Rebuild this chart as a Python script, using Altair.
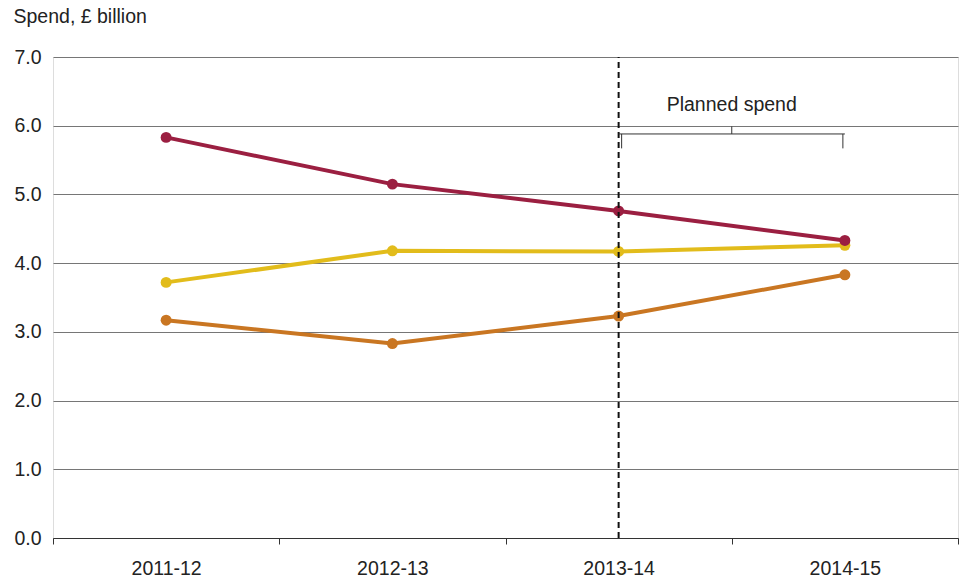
import altair as alt
import pandas as pd

years = ["2011-12", "2012-13", "2013-14", "2014-15"]
series_a = [5.83, 5.15, 4.76, 4.33]   # dark red
series_b = [3.72, 4.18, 4.17, 4.26]   # yellow
series_c = [3.17, 2.83, 3.23, 3.83]   # orange
series_names = ["A", "B", "C"]
colors = ["#9B1F41", "#E2BC1B", "#C97622"]

rows = []
for name, vals, order in [("C", series_c, 0), ("B", series_b, 1), ("A", series_a, 2)]:
    for y, v in zip(years, vals):
        rows.append({"year": y, "value": v, "series": name, "ord": order})
df = pd.DataFrame(rows)

FONT = "Liberation Sans"
FS = 19.5

xscale = alt.Scale(domain=years, paddingInner=0, paddingOuter=0)
yscale = alt.Scale(domain=[0, 7])

base = alt.Chart(df)

lines = base.mark_line(strokeWidth=4).encode(
    x=alt.X("year:N", scale=xscale, sort=years,
            axis=alt.Axis(title=None, labelAngle=0, tickBand="extent", tickSize=6,
                          labelPadding=15, labelFontSize=FS, labelFont=FONT,
                          labelColor="#222222", domainColor="#333333", tickColor="#333333",
                          grid=False)),
    y=alt.Y("value:Q", scale=yscale,
            axis=alt.Axis(title="Spend, £ billion", titleAngle=0, titleAlign="left",
                          titleBaseline="alphabetic", titleX=-40, titleY=-35,
                          titleFontSize=FS, titleFont=FONT, titleFontWeight="normal",
                          titleColor="#222222",
                          values=[0, 1, 2, 3, 4, 5, 6, 7], format=".1f",
                          labelFontSize=FS, labelFont=FONT, labelColor="#222222",
                          labelPadding=12, ticks=False, domain=False,
                          grid=True, gridColor="#767676", gridWidth=1)),
    color=alt.Color("series:N", scale=alt.Scale(domain=series_names, range=colors), legend=None),
    detail="series:N",
    order="ord:Q",
)

points = base.mark_circle(size=120, opacity=1).encode(
    x=alt.X("year:N", scale=xscale, sort=years),
    y=alt.Y("value:Q", scale=yscale),
    color=alt.Color("series:N", scale=alt.Scale(domain=series_names, range=colors), legend=None),
    order="ord:Q",
)

ann = alt.Chart(pd.DataFrame({"a": [0]}))

dashed = ann.mark_rule(color="#111111", strokeWidth=2, strokeDash=[6, 4]).encode(
    x=alt.X(datum="2013-14", bandPosition=0.5, scale=xscale),
    y=alt.Y(datum=0, scale=yscale),
    y2=alt.Y2(datum=7),
)

bracket_h = ann.mark_rule(color="#333333", strokeWidth=1).encode(
    x=alt.X(datum="2013-14", bandPosition=0.5, scale=xscale),
    x2=alt.X2(datum="2014-15", bandPosition=0.5),
    y=alt.Y(datum=5.88, scale=yscale),
)
bracket_l = ann.mark_rule(color="#333333", strokeWidth=1, xOffset=3).encode(
    x=alt.X(datum="2013-14", bandPosition=0.5, scale=xscale),
    y=alt.Y(datum=5.88, scale=yscale),
    y2=alt.Y2(datum=5.67),
)
bracket_r = ann.mark_rule(color="#333333", strokeWidth=1, xOffset=-2).encode(
    x=alt.X(datum="2014-15", bandPosition=0.5, scale=xscale),
    y=alt.Y(datum=5.88, scale=yscale),
    y2=alt.Y2(datum=5.67),
)
bracket_m = ann.mark_rule(color="#333333", strokeWidth=1).encode(
    x=alt.X(datum="2013-14", bandPosition=1, scale=xscale),
    y=alt.Y(datum=5.88, scale=yscale),
    y2=alt.Y2(datum=5.99),
)
label = ann.mark_text(font=FONT, fontSize=FS, color="#222222", baseline="alphabetic",
                      align="center").encode(
    x=alt.X(datum="2013-14", bandPosition=1, scale=xscale),
    y=alt.Y(datum=6.21, scale=yscale),
    text=alt.value("Planned spend"),
)

chart = alt.layer(lines, points, dashed, bracket_h, bracket_l, bracket_r, bracket_m, label).properties(
    width=905, height=481,
    autosize=alt.AutoSizeParams(type="none"),
    padding={"left": 53, "top": 57, "right": 2, "bottom": 48},
).configure_view(stroke=None).configure(background="white")

chart.save("out.html", embed_options={"renderer": "svg", "actions": False})
